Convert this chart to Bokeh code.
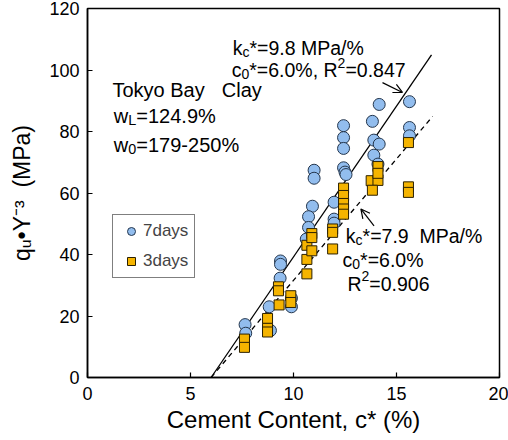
import math
from bokeh.plotting import figure
from bokeh.models import Range1d, Label, Arrow, OpenHead, FixedTicker, Legend, LegendItem
from bokeh.embed import file_html
from bokeh.resources import INLINE

# ---------------- data ----------------
x_7days = [7.65, 7.68, 8.82, 8.88, 9.37, 9.37, 9.35, 9.90, 9.90, 10.92, 10.73, 10.73, 10.62,
           11.00, 11.00, 11.97, 11.97, 11.97, 12.43, 12.43, 12.43, 12.43, 12.50, 12.55,
           13.83, 13.90, 14.16, 13.90, 14.10, 14.16, 15.63, 15.63, 15.63]
y_7days = [17.2, 14.4, 23.0, 15.3, 37.9, 36.8, 32.3, 25.8, 23.0, 55.7, 52.3, 48.8, 45.0,
           67.4, 64.8, 57.0, 51.5, 50.2, 81.9, 78.0, 74.5, 68.2, 66.8, 66.0,
           83.3, 77.2, 75.9, 72.3, 69.4, 88.8, 89.7, 81.3, 78.6]

x_3days = [7.62, 7.62, 8.74, 8.74, 8.74, 9.30, 9.27, 9.27, 9.87, 9.87, 10.65, 10.65, 10.65,
           10.89, 10.89, 10.89, 11.90, 11.90, 11.90, 12.43, 12.43, 12.43, 12.43, 12.43,
           13.77, 14.10, 14.10, 14.10, 13.83, 15.58, 15.58, 15.58]
y_3days = [12.5, 9.8, 19.2, 16.0, 14.8, 23.6, 29.5, 28.2, 26.6, 24.4, 43.0, 38.4, 33.7,
           46.8, 45.5, 41.2, 48.3, 47.2, 41.8, 61.6, 59.2, 56.6, 54.8, 53.1,
           64.0, 64.1, 68.6, 66.4, 60.9, 76.4, 62.0, 60.2]

fit7_x = [6.0, 16.7]
fit7_y = [0.0, 104.9]
fit3_x = [6.0, 16.75]
fit3_y = [0.0, 84.9]

x_ticks = [0, 5, 10, 15, 20]
y_ticks = [0, 20, 40, 60, 80, 100, 120]

FONT = "Liberation Sans"

# ------------- helpers -------------
W = {' ': 278, '\u00a0': 278, '%': 889, '(': 333, ')': 333, '*': 389, ',': 278, '-': 333,
     '.': 278, '/': 278, '=': 584, '\u2022': 350, 'A': 667, 'B': 667, 'C': 722, 'L': 556,
     'M': 833, 'P': 667, 'R': 722, 'T': 611, 'Y': 667, 'a': 556, 'c': 500, 'd': 556,
     'e': 556, 'k': 500, 'l': 222, 'm': 833, 'n': 556, 'o': 556, 'q': 556, 's': 500,
     't': 278, 'u': 556, 'w': 722, 'y': 500}


def tw(txt, fs):
    return sum(W.get(ch, 556) for ch in txt) * fs / 1000.0


def rich(p, segs, x, y, size, angle=0.0):
    off = 0.0
    for txt, kind in segs:
        fs = size if kind == "n" else size * 0.72
        if kind == "n":
            shift = 0.0
        elif kind == "b":
            shift = -0.2 * size
        else:
            shift = 0.38 * size
        if angle == 0:
            xo, yo = off, shift
        else:
            xo, yo = -shift, off
        p.add_layout(Label(x=x, y=y, text=txt, x_offset=xo, y_offset=yo, angle=angle,
                           text_font=FONT, text_font_size=f"{fs:.1f}px",
                           text_baseline="alphabetic", text_align="left",
                           text_color="black"))
        off += tw(txt, fs)


# ------------- figure -------------
p = figure(width=508, height=440, output_backend="svg", toolbar_location=None,
           x_range=Range1d(0, 20), y_range=Range1d(0, 120),
           min_border_left=87, min_border_right=9, min_border_top=8, min_border_bottom=63)
p.background_fill_color = "white"
p.border_fill_color = "white"
p.outline_line_color = "black"
p.outline_line_width = 1.5
p.grid.visible = False

p.xaxis.ticker = FixedTicker(ticks=x_ticks)
p.yaxis.ticker = FixedTicker(ticks=y_ticks)
for ax in (p.xaxis, p.yaxis):
    ax.axis_line_color = "black"
    ax.axis_line_width = 1.5
    ax.major_tick_in = 5
    ax.major_tick_out = 0
    ax.major_tick_line_width = 1.2
    ax.minor_tick_line_color = None
    ax.major_label_text_font = FONT
    ax.major_label_text_font_size = "18px"
    ax.major_label_text_color = "black"
    ax.axis_label_text_font = FONT
    ax.axis_label_text_font_style = "normal"
    ax.axis_label_text_color = "black"
p.xaxis.major_label_standoff = 9
p.yaxis.major_label_standoff = 8
p.xaxis.axis_label = "Cement Content, c* (%)"
p.xaxis.axis_label_text_font_size = "24px"
p.xaxis.axis_label_standoff = 3
p.yaxis.axis_label = "q\u1d64\u2022Y\u207b\u00b3\u00a0\u00a0(MPa)"
p.yaxis.axis_label_text_font_size = "23px"
p.yaxis.axis_label_standoff = 11

# fit lines
p.line(fit7_x, fit7_y, line_color="black", line_width=1.3)
p.line(fit3_x, fit3_y, line_color="black", line_width=1.3, line_dash="5 4")

# data
r7 = p.scatter(x_7days, y_7days, marker="circle", size=12, fill_color="#92bdee",
               line_color="#24364d", line_width=1)
r3 = p.scatter(x_3days, y_3days, marker="square", size=10, fill_color="#f5b400",
               line_color="#2b2000", line_width=1)

legend = Legend(items=[LegendItem(label="7days", renderers=[r7]),
                       LegendItem(label="3days", renderers=[r3])],
                location=(25, 99))
legend.glyph_width = 24
legend.glyph_height = 20
legend.label_height = 20
legend.label_width = 10
legend.spacing = 10
legend.padding = 6
legend.margin = 0
legend.label_standoff = -9
legend.border_line_color = "black"
legend.border_line_width = 1
legend.background_fill_alpha = 1
legend.label_text_font = FONT
legend.label_text_font_size = "17px"
p.add_layout(legend)

# arrows
p.add_layout(Arrow(end=OpenHead(size=9, line_width=1.2, line_color="black"),
                   x_start=14.32, y_start=95.9, x_end=15.29, y_end=92.7,
                   line_width=1.2, line_color="black"))
p.add_layout(Arrow(end=OpenHead(size=9, line_width=1.2, line_color="black"),
                   x_start=13.91, y_start=49.3, x_end=13.27, y_end=54.8,
                   line_width=1.2, line_color="black"))

# annotations
S = 19.5
rich(p, [("k", "n"), ("c", "b"), ("*=9.8 MPa/%", "n")], 7.05, 107.0, S)
rich(p, [("c", "n"), ("0", "b"), ("*=6.0%, R", "n"), ("2", "p"), ("=0.847", "n")], 7.00, 99.9, S)
rich(p, [("Tokyo Bay", "n")], 1.21, 93.6, 20)
rich(p, [("Clay", "n")], 6.52, 93.6, 20)
rich(p, [("w", "n"), ("L", "b"), ("=124.9%", "n")], 1.28, 85.0, 20)
rich(p, [("w", "n"), ("0", "b"), ("=179-250%", "n")], 1.28, 75.6, 20)
rich(p, [("k", "n"), ("c", "b"), ("*=7.9\u00a0\u00a0MPa/%", "n")], 12.54, 46.1, S)
rich(p, [("c", "n"), ("0", "b"), ("*=6.0%", "n")], 12.38, 38.3, S)
rich(p, [("R", "n"), ("2", "p"), ("=0.906", "n")], 12.62, 30.5, S)

open("out.html", "w").write(file_html(p, INLINE))
